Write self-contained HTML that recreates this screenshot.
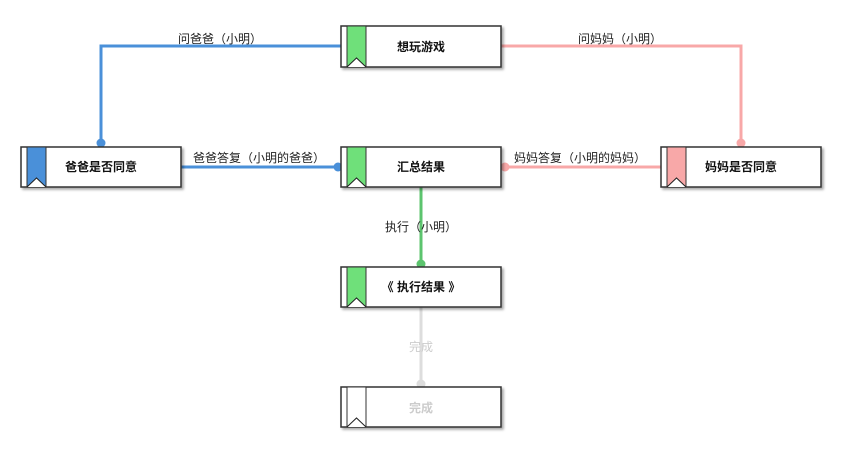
<!DOCTYPE html>
<html><head><meta charset="utf-8"><style>
html,body{margin:0;padding:0;background:#fff;}
svg{display:block;font-family:"Liberation Sans","Noto Sans CJK SC",sans-serif;}
</style></head><body>
<svg width="842" height="455" viewBox="0 0 842 455" xmlns="http://www.w3.org/2000/svg">
<defs>
<filter id="sh" x="-10%" y="-20%" width="130%" height="160%"><feDropShadow dx="2" dy="2" stdDeviation="1.2" flood-color="#000" flood-opacity="0.35"/></filter>
</defs>
<!-- edges -->
<g fill="none" stroke-width="3">
<polyline points="341,46 101,46 101,143" stroke="#4a90d9"/>
<polyline points="501,46 741,46 741,143" stroke="#f8a8a8"/>
<line x1="181" y1="167" x2="338" y2="167" stroke="#4a90d9"/>
<line x1="661" y1="167" x2="505" y2="167" stroke="#f8a8a8"/>
<line x1="421" y1="187" x2="421" y2="264" stroke="#5cc46e"/>
<line x1="421" y1="307" x2="421" y2="383" stroke="#dddddd"/>
</g>
<circle cx="101" cy="143" r="4.5" fill="#4a90d9"/>
<circle cx="741" cy="143" r="4.5" fill="#f8a8a8"/>
<circle cx="338" cy="167" r="4.5" fill="#4a90d9"/>
<circle cx="505" cy="167" r="4.5" fill="#f8a8a8"/>
<circle cx="421" cy="264" r="4.5" fill="#5cc46e"/>
<circle cx="421" cy="384" r="4.5" fill="#dddddd"/>
<g font-size="12" text-anchor="middle" fill="#222">
<text x="220" y="43">问爸爸（小明）</text>
<text x="620" y="43">问妈妈（小明）</text>
<text x="259" y="162">爸爸答复（小明的爸爸）</text>
<text x="580" y="162">妈妈答复（小明的妈妈）</text>
<text x="421" y="231">执行（小明）</text>
<text x="421" y="351" fill="#ccc">完成</text>
</g>
<!-- nodes -->
<g id="nodes" font-size="12" font-weight="bold" text-anchor="middle">
<g transform="translate(341,26)">
<rect x="0" y="0" width="160" height="41" fill="#fff" stroke="#333" stroke-width="1.5" filter="url(#sh)"/>
<rect x="6" y="0" width="19" height="41" fill="#6fe07a" stroke="#333" stroke-width="1"/>
<polyline points="6,41 15.5,32 25,41" fill="#fff" stroke="#222" stroke-width="1"/>
<text x="80" y="25" fill="#111">想玩游戏</text>
</g>
<g transform="translate(21,147)">
<rect x="0" y="0" width="160" height="40" fill="#fff" stroke="#333" stroke-width="1.5" filter="url(#sh)"/>
<rect x="6" y="0" width="19" height="40" fill="#4a90d9" stroke="#333" stroke-width="1"/>
<polyline points="6,40 15.5,31 25,40" fill="#fff" stroke="#222" stroke-width="1"/>
<text x="80" y="24" fill="#111">爸爸是否同意</text>
</g>
<g transform="translate(341,147)">
<rect x="0" y="0" width="160" height="40" fill="#fff" stroke="#333" stroke-width="1.5" filter="url(#sh)"/>
<rect x="6" y="0" width="19" height="40" fill="#6fe07a" stroke="#333" stroke-width="1"/>
<polyline points="6,40 15.5,31 25,40" fill="#fff" stroke="#222" stroke-width="1"/>
<text x="80" y="24" fill="#111">汇总结果</text>
</g>
<g transform="translate(661,147)">
<rect x="0" y="0" width="160" height="40" fill="#fff" stroke="#333" stroke-width="1.5" filter="url(#sh)"/>
<rect x="6" y="0" width="19" height="40" fill="#f8a8a8" stroke="#333" stroke-width="1"/>
<polyline points="6,40 15.5,31 25,40" fill="#fff" stroke="#222" stroke-width="1"/>
<text x="80" y="24" fill="#111">妈妈是否同意</text>
</g>
<g transform="translate(341,267)">
<rect x="0" y="0" width="160" height="40" fill="#fff" stroke="#333" stroke-width="1.5" filter="url(#sh)"/>
<rect x="6" y="0" width="19" height="40" fill="#6fe07a" stroke="#333" stroke-width="1"/>
<polyline points="6,40 15.5,31 25,40" fill="#fff" stroke="#222" stroke-width="1"/>
<text x="80" y="24" fill="#111">《 执行结果 》</text>
</g>
<g transform="translate(341,387)">
<rect x="0" y="0" width="160" height="40" fill="#fff" stroke="#333" stroke-width="1.5" filter="url(#sh)"/>
<rect x="6" y="0" width="19" height="40" fill="#fff" stroke="#333" stroke-width="1"/>
<polyline points="6,40 15.5,31 25,40" fill="#fff" stroke="#222" stroke-width="1"/>
<text x="80" y="25" fill="#ccc">完成</text>
</g>
</g>
</svg>
</body></html>
